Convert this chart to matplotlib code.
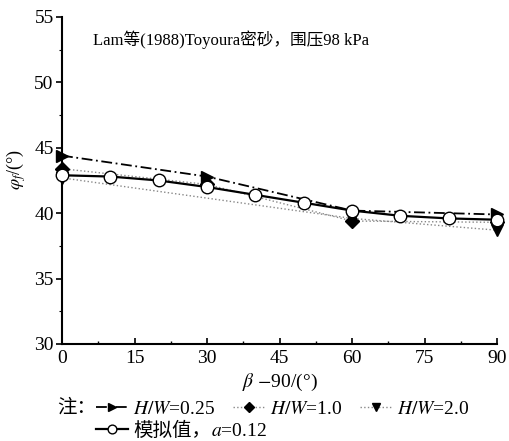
import matplotlib
matplotlib.use('Agg')
import matplotlib.pyplot as plt
from matplotlib.ticker import MultipleLocator

plt.rcParams['font.family'] = ['Liberation Serif', 'Noto Sans CJK SC']
plt.rcParams['mathtext.fontset'] = 'stix'

# data
x_025 = [0, 30, 60, 90]
y_025 = [44.4, 42.8, 40.2, 39.9]
x_10 = [0, 30, 60, 90]
y_10 = [43.4, 42.2, 39.4, 39.3]
x_20 = [0, 60, 90]
y_20 = [42.7, 39.6, 38.7]
x_sim = [0, 10, 20, 30, 40, 50, 60, 70, 80, 90]
y_sim = [42.9, 42.8, 42.5, 42.0, 41.4, 40.8, 40.2, 39.8, 39.6, 39.5]

xticks = [0, 15, 30, 45, 60, 75, 90]
yticks = [30, 35, 40, 45, 50, 55]

fig = plt.figure(figsize=(5.1, 4.41), dpi=100)
ax = fig.add_axes([0.1216, 0.22, 0.853, 0.7415])

l025, = ax.plot(x_025, y_025, color='black', linestyle=(0, (6, 2, 1, 2)), lw=1.3,
                marker='>', markersize=9, markevery=[0, 1, 3],
                label=r'$H/W$=0.25', clip_on=False, zorder=4)
l10, = ax.plot(x_10, y_10, color='#888888', linestyle=':', lw=1.0,
               marker='D', markersize=7, markerfacecolor='black', markeredgecolor='black',
               label=r'$H/W$=1.0', clip_on=False, zorder=3)
l20, = ax.plot(x_20, y_20, color='#888888', linestyle=':', lw=1.0,
               marker='v', markersize=9, markerfacecolor='black', markeredgecolor='black',
               label=r'$H/W$=2.0', clip_on=False, zorder=3)
lsim, = ax.plot(x_sim, y_sim, color='black', linestyle='-', lw=1.6,
                marker='o', markersize=9, markerfacecolor='white', markeredgecolor='black',
                label='模拟值，', clip_on=False, zorder=5)

ax.set_xlim(0, 90)
ax.set_ylim(30, 55)
ax.set_xticks(xticks)
ax.set_yticks(yticks)
ax.xaxis.set_minor_locator(MultipleLocator(7.5))
ax.yaxis.set_minor_locator(MultipleLocator(2.5))
ax.tick_params(axis='x', which='major', direction='in', length=4, width=1.2, labelsize=14, pad=4)
ax.tick_params(axis='x', which='minor', direction='in', length=2, width=1.0)
ax.tick_params(axis='y', which='major', direction='out', length=4, width=1.2, labelsize=14, pad=2)
ax.tick_params(axis='y', which='minor', direction='out', length=2, width=0.8)
for s in ['top', 'right']:
    ax.spines[s].set_visible(False)
for s in ['left', 'bottom']:
    ax.spines[s].set_linewidth(1.5)

ax.set_xlabel(r'$\beta$ $-$90/(°)', fontsize=14, labelpad=4)
ax.set_ylabel(r'$\varphi_f$/(°)', fontsize=13)
ax.yaxis.set_label_coords(-0.078, 0.532)

ax.text(0.072, 0.93, 'Lam等(1988)Toyoura密砂，围压98 kPa', transform=ax.transAxes,
        fontsize=12, va='center', ha='left')

fig.text(0.112, 0.075, '注：', fontsize=14, va='center', ha='left')
leg = fig.legend(handles=[l025, lsim, l10, l20], loc='center left',
                 bbox_to_anchor=(0.17, 0.048), ncol=3, frameon=False,
                 fontsize=14, handlelength=1.6, handletextpad=0.3, columnspacing=0.9,
                 labelspacing=0.2, borderpad=0, markerscale=0.7)

# italic "a" after the CJK legend label
fig.canvas.draw()
bb = leg.get_texts()[1].get_window_extent()
fig.text(bb.x1 / fig.bbox.width, (bb.y0 + bb.y1) / 2 / fig.bbox.height - 0.002,
         '$a$=0.12', fontsize=14, va='center', ha='left')

fig.savefig('out.png', dpi=100)
